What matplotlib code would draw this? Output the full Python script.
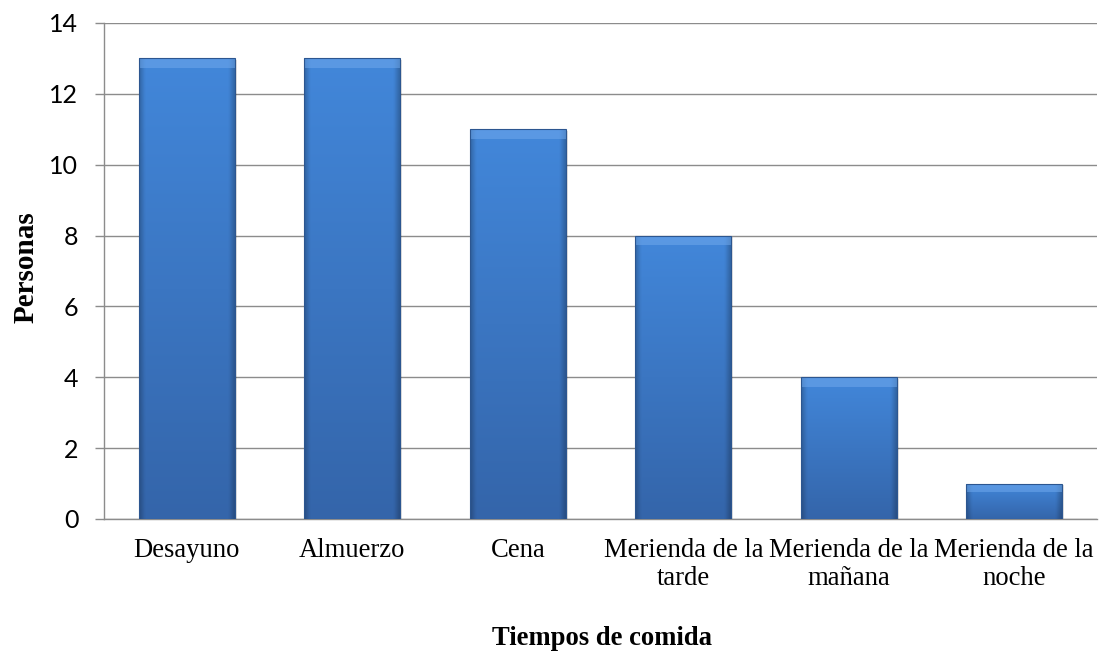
#!/usr/bin/env python3
"""Bar chart: personas por tiempo de comida."""

import matplotlib
matplotlib.use("Agg")
import matplotlib.pyplot as plt
import numpy as np
from matplotlib.colors import to_rgb
from matplotlib.patches import Rectangle

# --- Data ---
categories = [
    "Desayuno",
    "Almuerzo",
    "Cena",
    "Merienda de la\ntarde",
    "Merienda de la\nmañana",
    "Merienda de la\nnoche",
]
personas = [13, 13, 11, 8, 4, 1]
y_ticks = [0, 2, 4, 6, 8, 10, 12, 14]

# --- Colors ---
top_col = np.array(to_rgb("#4287DA"))
bot_col = np.array(to_rgb("#3465AA"))
edge_col = "#2C5690"
grid_col = "#8C8C8C"

serif = ["Liberation Serif", "DejaVu Serif"]
sans = ["Lato", "Open Sans", "DejaVu Sans"]

fig = plt.figure(figsize=(11.06, 6.52), dpi=100)
fig.set_facecolor("white")
ax = fig.add_axes([104 / 1106, 1 - 519 / 652, (1097 - 104) / 1106, (519 - 23) / 652])

x = np.arange(len(categories))
bar_width = 0.58
bars = ax.bar(x, personas, width=bar_width, color="none", edgecolor="none", zorder=3)

# gradient fill with a soft bevel for each bar
for bar in bars:
    x0, w, h = bar.get_x(), bar.get_width(), bar.get_height()
    ny, nx = 200, 60
    t = np.linspace(0, 1, ny)[:, None, None]          # 0 bottom -> 1 top
    img = bot_col + (top_col - bot_col) * t
    img = np.repeat(img, nx, axis=1)
    u = np.linspace(0, 1, nx)
    edge = 1 - 0.22 * np.clip(1 - np.minimum(u, 1 - u) / 0.06, 0, 1)
    img = img * edge[None, :, None]
    im = ax.imshow(img, extent=(x0, x0 + w, 0, h), origin="lower",
                   aspect="auto", zorder=3, interpolation="bilinear")
    im.set_clip_path(bar)
    # soft shadow
    ax.add_patch(Rectangle((x0 + 0.012, -0.05), w, h, facecolor="#000000",
                           alpha=0.12, edgecolor="none", zorder=2.5))
    # top bevel highlight
    bevel = min(0.28, h * 0.25)
    ax.add_patch(Rectangle((x0, h - bevel), w, bevel, facecolor="#6FA8EC",
                           alpha=0.55, edgecolor="none", zorder=3.2))
    ax.add_patch(Rectangle((x0, 0), w, h, facecolor="none",
                           edgecolor=edge_col, linewidth=0.8, zorder=3.4))

ax.set_xlim(-0.5, len(categories) - 0.5)
ax.set_ylim(0, 14)
ax.set_yticks(y_ticks)
ax.set_yticklabels([str(v) for v in y_ticks], fontfamily=sans, fontsize=18)
ax.set_xticks(x)
ax.set_xticklabels(categories, fontfamily=serif, fontsize=19.2, linespacing=1.15)
ax.tick_params(axis="x", length=0, pad=14)
ax.tick_params(axis="y", length=6.5, width=1, color=grid_col, pad=12)

ax.yaxis.grid(True, color=grid_col, linewidth=1)
ax.set_axisbelow(True)
for s in ["top", "right"]:
    ax.spines[s].set_visible(False)
for s in ["left", "bottom"]:
    ax.spines[s].set_color(grid_col)
    ax.spines[s].set_linewidth(1)

fig.text(26 / 1106, 1 - 267 / 652, "Personas", rotation=90, ha="center",
         va="center", fontfamily=serif, fontweight="bold", fontsize=21)
fig.text(602 / 1106, 1 - 645 / 652, "Tiempos de comida", ha="center",
         va="baseline", fontfamily=serif, fontweight="bold", fontsize=19.2)

fig.savefig("out.png", dpi=100, facecolor="white")
